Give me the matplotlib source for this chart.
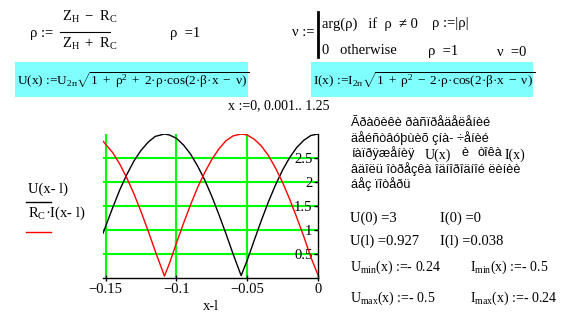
import matplotlib
matplotlib.use("Agg")
import matplotlib.pyplot as plt
from matplotlib.lines import Line2D
from matplotlib.patches import Rectangle

plt.rcParams['font.family'] = ['Liberation Serif', 'DejaVu Serif']
plt.rcParams['mathtext.fontset'] = 'custom'
plt.rcParams['mathtext.rm'] = 'Liberation Serif'
plt.rcParams['mathtext.it'] = 'Liberation Serif'
plt.rcParams['mathtext.bf'] = 'Liberation Serif:bold'

# values (x - l, U(x-l), Rc*I(x-l))
x_l = [-0.1519, -0.145, -0.14, -0.135, -0.13, -0.125, -0.12, -0.115, -0.1085,
       -0.105, -0.10, -0.095, -0.09, -0.085, -0.08, -0.075, -0.07, -0.065,
       -0.06, -0.0543, -0.05, -0.045, -0.04, -0.035, -0.03, -0.025, -0.02,
       -0.015, -0.01, -0.005, 0.0]
U_vals = [0.93, 1.47, 1.84, 2.16, 2.44, 2.66, 2.83, 2.95, 3.0,
          2.98, 2.91, 2.77, 2.58, 2.33, 2.04, 1.70, 1.32, 0.92,
          0.50, 0.05, 0.37, 0.79, 1.20, 1.59, 1.94, 2.25, 2.51,
          2.72, 2.87, 2.97, 3.0]
RI_vals = [2.85, 2.61, 2.37, 2.08, 1.75, 1.38, 0.98, 0.56, 0.04,
           0.30, 0.73, 1.14, 1.53, 1.89, 2.20, 2.47, 2.69, 2.86,
           2.96, 3.0, 2.98, 2.89, 2.75, 2.55, 2.29, 1.99, 1.64,
           1.26, 0.86, 0.43, 0.06]

xticks = [-0.15, -0.1, -0.05, 0]
xtick_labels = ['\u22120.15', '\u22120.1', '\u22120.05', '0']
yticks = [0.5, 1, 1.5, 2, 2.5]
ytick_labels = ['0.5', '1', '1.5', '2', '2.5']

W, H = 564, 315
fig = plt.figure(figsize=(W / 100, H / 100), dpi=100)


def P(x, y):
    return x / W, 1 - y / H


def txt(x, y, s, size=10.5, family=None, **kw):
    kw.setdefault('va', 'center')
    if family:
        kw['family'] = family
    fig.text(*P(x, y), s, fontsize=size, **kw)


def hline(x0, x1, y, color='black', lw=1.0):
    fig.add_artist(Line2D([x0 / W, x1 / W], [1 - y / H, 1 - y / H], color=color, lw=lw))


# ---- header formulas ----
txt(30, 33, 'ρ :=')
txt(62, 17, r'$\mathrm{Z_{H}\ -\ R_{C}}$')
hline(60, 110, 32, lw=0.8)
txt(62, 44, r'$\mathrm{Z_{H}\ +\ R_{C}}$')
txt(170, 33, 'ρ  =1')
txt(292, 33, 'ν :=')
fig.add_artist(Line2D([318 / W, 318 / W], [1 - 12 / H, 1 - 57 / H], color='black', lw=2))
txt(322, 24, 'arg(ρ)   if  ρ  ≠ 0')
txt(322, 50, '0   otherwise')
txt(432, 24, 'ρ :=|ρ|')
txt(428, 52, 'ρ  =1')
txt(497, 52, 'ν  =0')

fig.add_artist(Rectangle(P(15, 97), 233 / W, 35 / H, color='#80ffff', lw=0))
fig.add_artist(Rectangle(P(311, 97), 222 / W, 35 / H, color='#80ffff', lw=0))
txt(17, 80, r'U(x) :=U$_{\mathrm{2п}}\sqrt{\mathrm{1\;+\;ρ^{2}\;+\;2·ρ·cos(2·β·x\;-\;ν)}}$', size=9.6)
txt(313, 80, r'I(x) :=I$_{\mathrm{2п}}\sqrt{\mathrm{1\;+\;ρ^{2}\;-\;2·ρ·cos(2·β·x\;-\;ν)}}$', size=9.6)

txt(228, 106, 'x :=0, 0.001.. 1.25', size=10)

# ---- plot ----
ax = fig.add_axes([103 / W, 37 / H, 215 / W, 144 / H])
ax.set_xlim(-0.1519, 0)
ax.set_ylim(0, 3)
for xv in xticks[:-1]:
    ax.axvline(xv, color='#00ff00', lw=1.5, zorder=1)
for yv in yticks:
    ax.axhline(yv, color='#00ff00', lw=1.5, zorder=1)
ax.plot(x_l, U_vals, color='black', lw=1.0, zorder=3)
ax.plot(x_l, RI_vals, color='red', lw=1.0, zorder=3)

ax.spines['top'].set_visible(False)
ax.spines['left'].set_visible(False)
ax.spines['right'].set_linewidth(1.0)
ax.spines['bottom'].set_linewidth(1.0)
ax.set_xticks(xticks)
ax.set_xticklabels(xtick_labels)
ax.tick_params(axis='x', direction='inout', length=5, width=1, labelsize=10.5, pad=1)
ax.yaxis.set_ticks_position('right')
ax.set_yticks(yticks)
ax.set_yticklabels(ytick_labels)
ax.tick_params(axis='y', direction='in', length=3, width=1, labelsize=10.5, pad=-4)
for t in ax.yaxis.get_major_ticks():
    t.label2.set_horizontalalignment('right')
ax.set_xlabel('x-l', fontsize=10.5, labelpad=3)

# legend (Mathcad style, left of plot)
txt(28, 189, 'U(x- l)')
hline(26, 51, 202, color='black')
txt(28, 213, r'$\mathrm{R_{C}}$·I(x- l)')
hline(26, 51, 232, color='red')

# ---- right-hand notes ----
sans = ['Liberation Sans', 'DejaVu Sans']
fs = 9.2
txt(351, 123, 'Ãðàôèêè ðàñïðåäåëåíèé', size=fs, family=sans)
txt(351, 138, 'äåéñòâóþùèõ çíà- ÷åíèé', size=fs, family=sans)
txt(351, 153, 'íàïðÿæåíèÿ', size=fs, family=sans)
txt(425, 155, 'U(x)', size=10)
txt(462, 153, 'è', size=fs, family=sans)
txt(477, 153, 'òîêà', size=fs, family=sans)
txt(505, 155, 'I(x)', size=10)
txt(351, 169, 'âäîëü îòðåçêà îäíîðîäíîé ëèíèè', size=fs, family=sans)
txt(351, 184, 'áåç ïîòåðü', size=fs, family=sans)

txt(350, 218, 'U(0) =3')
txt(440, 218, 'I(0) =0')
txt(350, 241, 'U(l) =0.927')
txt(440, 241, 'I(l) =0.038')
txt(350, 267, r'U$_{\mathrm{min}}$(x) :=- 0.24', size=10)
txt(470, 267, r'I$_{\mathrm{min}}$(x) :=- 0.5', size=10)
txt(350, 298, r'U$_{\mathrm{max}}$(x) :=- 0.5', size=10)
txt(470, 298, r'I$_{\mathrm{max}}$(x) :=- 0.24', size=10)

fig.savefig('out.png', dpi=100)
